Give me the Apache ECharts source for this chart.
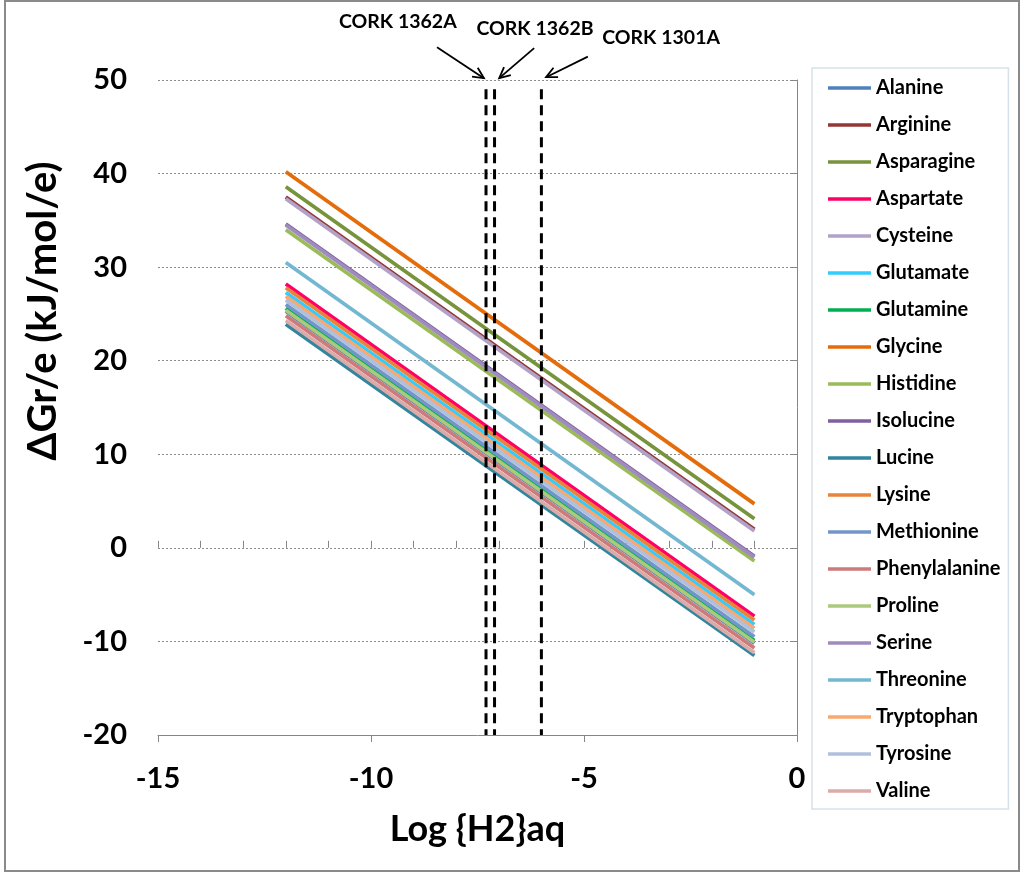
<!DOCTYPE html>
<html>
<head>
<meta charset="utf-8">
<script src="https://cdn.jsdelivr.net/npm/echarts@6/dist/echarts.min.js"></script>
<style>
html,body{margin:0;padding:0;background:#fff;}
#c{width:1023px;height:875px;}
</style>
</head>
<body>
<div id="c"></div>
<script>
// ---- data ----
const xPoints = [-12, -1];
const seriesNames = ['Alanine','Arginine','Asparagine','Aspartate','Cysteine','Glutamate','Glutamine','Glycine','Histidine','Isolucine','Lucine','Lysine','Methionine','Phenylalanine','Proline','Serine','Threonine','Tryptophan','Tyrosine','Valine'];
const valuesAtStart = [25.3, 37.5, 38.6, 28.2, 37.3, 27.3, 25.6, 40.2, 34.0, 34.6, 23.9, 27.8, 26.0, 24.8, 25.4, 34.5, 30.5, 26.9, 26.5, 24.3];
const valuesAtEnd   = [-10.2, 2.0, 3.1, -7.3, 1.8, -8.2, -9.9, 4.7, -1.4, -0.9, -11.5, -7.7, -9.5, -10.7, -10.1, -1.0, -5.0, -8.6, -9.0, -11.2];
const seriesColors = ['#4F81BD','#943634','#77933C','#FF0066','#B3A2C7','#33CCFF','#00B050','#E46C0A','#9BBB59','#7F5F9F','#31859C','#E8833A','#7396C9','#CC7A7A','#ADC97C','#9F8BC0','#74B7D1','#F9A86F','#AFC0DC','#DDAAAA'];

const corkNames = ['CORK 1362A','CORK 1362B','CORK 1301A'];
const corkX = [-7.3, -7.1, -6.0];
const corkLineY = [49, -20];
// annotation placement (data units)
const corkLabelPos = [[-9.37, 56.2], [-6.15, 55.5], [-3.19, 54.5]];
const corkArrowFrom = [[-8.45, 53.5], [-6.17, 53.4], [-4.91, 52.5]];
const corkArrowTo = [[-7.35, 50.2], [-6.99, 50.2], [-5.89, 50.3]];

const xTicks = [-15, -10, -5, 0];
const yTicks = [-20, -10, 0, 10, 20, 30, 40, 50];
const xTitle = 'Log {H2}aq';
const yTitle = 'ΔGr/e (kJ/mol/e)';

// ---- chart ----
const FONT = 'Lato';
const chart = echarts.init(document.getElementById('c'), null, {renderer: 'canvas'});

const series = seriesNames.map((n, i) => ({
  name: n,
  type: 'line',
  symbol: 'none',
  color: seriesColors[i],
  lineStyle: {width: 3.7, color: seriesColors[i]},
  data: xPoints.map((x, j) => [x, j === 0 ? valuesAtStart[i] : valuesAtEnd[i]]),
  z: 3,
  animation: false
}));

corkX.forEach((x, i) => {
  series.push({
    name: corkNames[i],
    type: 'line',
    symbol: 'none',
    lineStyle: {width: 3, color: '#000', type: [10, 6]},
    data: corkLineY.map(y => [x, y]),
    z: 4,
    animation: false
  });
});

const option = {
  backgroundColor: '#fff',
  animation: false,
  grid: {left: 158, right: 226, top: 80, bottom: 140, containLabel: false},
  xAxis: [{
    type: 'value', min: xTicks[0], max: xTicks[xTicks.length - 1], interval: 5,
    axisLine: {onZero: false, lineStyle: {color: '#868686', width: 1}},
    axisTick: {show: true, inside: false, length: 7, lineStyle: {color: '#868686'}},
    axisLabel: {margin: 29, color: '#000', fontFamily: FONT, fontWeight: 'bold', fontSize: 29},
    splitLine: {show: false},
    name: xTitle, nameLocation: 'middle', nameGap: 76,
    nameTextStyle: {color: '#000', fontFamily: FONT, fontWeight: 'bold', fontSize: 36}
  }, {
    type: 'value', min: xTicks[0], max: xTicks[xTicks.length - 1], interval: 1,
    position: 'bottom',
    axisLine: {show: false},
    axisTick: {show: true, inside: true, length: 7, lineStyle: {color: '#868686'}},
    axisLabel: {show: false},
    splitLine: {show: false}
  }],
  yAxis: {
    type: 'value', min: yTicks[0], max: yTicks[yTicks.length - 1], interval: 10,
    axisLine: {show: true, lineStyle: {color: '#868686', width: 1}},
    axisTick: {show: true, inside: false, length: 7, lineStyle: {color: '#868686'}},
    axisLabel: {margin: 31, color: '#000', fontFamily: FONT, fontWeight: 'bold', fontSize: 29},
    splitLine: {show: true, lineStyle: {color: '#8c8c8c', type: [2, 2], width: 1}}
  },
  legend: {
    show: true,
    data: seriesNames,
    orient: 'vertical',
    left: 812, top: 68,
    padding: [10, 8, 8, 16],
    itemWidth: 43, itemHeight: 14, itemGap: 17,
    borderColor: '#D5E2EC', borderWidth: 1.5,
    backgroundColor: '#fff',
    textStyle: {color: '#000', fontFamily: FONT, fontWeight: 'bold', fontSize: 20, lineHeight: 20},
    icon: 'path://M0,6 L43,6 L43,9.5 L0,9.5 Z'
  },
  series: series
};
chart.setOption(option);

// annotations (labels + arrows) placed from data coordinates
function px(p) { return chart.convertToPixel({xAxisIndex: 0, yAxisIndex: 0}, p); }
const graphics = [{
  type: 'rect', shape: {x: 5, y: 1, width: 1014, height: 870},
  style: {fill: null, stroke: '#8a8a8a', lineWidth: 2}, silent: true, z: 0
}, {
  type: 'text', x: 43, y: 311, rotation: Math.PI / 2,
  style: {text: yTitle, fill: '#000', font: 'bold 40px ' + FONT, textAlign: 'center', textVerticalAlign: 'middle'},
  z: 10
}];
corkNames.forEach((n, i) => {
  const lp = px(corkLabelPos[i]);
  graphics.push({
    type: 'text', x: lp[0], y: lp[1],
    style: {text: n, fill: '#000', font: 'bold 19.5px ' + FONT, textAlign: 'center', textVerticalAlign: 'middle'},
    z: 10
  });
  const a = px(corkArrowFrom[i]), b = px(corkArrowTo[i]);
  const dx = b[0] - a[0], dy = b[1] - a[1];
  const L = Math.hypot(dx, dy), ux = dx / L, uy = dy / L;
  const h = 12, ang = Math.PI / 7;
  const c = Math.cos(ang), s = Math.sin(ang);
  const h1 = [b[0] - h * (ux * c - uy * s), b[1] - h * (uy * c + ux * s)];
  const h2 = [b[0] - h * (ux * c + uy * s), b[1] - h * (uy * c - ux * s)];
  graphics.push({type: 'polyline', shape: {points: [a, b]}, style: {stroke: '#000', lineWidth: 1.8, fill: null}, z: 10});
  graphics.push({type: 'polyline', shape: {points: [h1, b, h2]}, style: {stroke: '#000', lineWidth: 1.8, fill: null}, z: 10});
});
chart.setOption({graphic: graphics});
</script>
</body>
</html>
